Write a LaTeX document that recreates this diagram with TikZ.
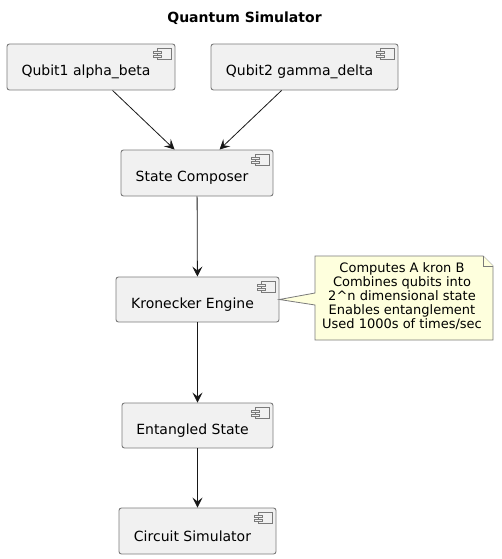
\documentclass[tikz,border=0pt]{standalone}
\usepackage{fontspec}
\setmainfont{DejaVu Sans}
\usetikzlibrary{arrows.meta,calc}
\definecolor{boxfill}{HTML}{F1F1F1}
\definecolor{boxline}{HTML}{7A7A7A}
\definecolor{arrowline}{HTML}{181818}
\definecolor{notefill}{HTML}{FEFFDD}
\tikzset{
  comp/.style={draw=boxline, line width=0.9pt, fill=boxfill, rounded corners=2.5pt, inner sep=0pt, minimum height=46pt},
  comptext/.style={font=\fontsize{14}{16}\selectfont, text=black, inner sep=0pt},
  notetext/.style={font=\fontsize{13}{14}\selectfont, align=center, text=black, inner sep=0pt},
  flow/.style={draw=arrowline, line width=0.8pt, -{Stealth[length=10pt,width=10pt,inset=4pt]}},
  icon/.style={draw=boxline, line width=0.7pt, fill=boxfill},
}
\newcommand{\compicon}[1]{%
  \draw[icon] ($(#1.north east)+(-18,5)$) rectangle ($(#1.north east)+(-4,16)$);
  \draw[icon] ($(#1.north east)+(-22,8)$) rectangle ($(#1.north east)+(-14,10)$);
  \draw[icon] ($(#1.north east)+(-22,12)$) rectangle ($(#1.north east)+(-14,14)$);
}
\begin{document}
\begin{tikzpicture}[x=1pt,y=-1pt]
\useasboundingbox (0,0) rectangle (501,559);
\node[font=\bfseries\fontsize{14}{16}\selectfont, inner sep=0pt] (title) at (244.5,18) {Quantum Simulator};

\node[comp, minimum width=168pt] (q1) at (91,67) {};
\node[comptext] (q1t) at (86,72) {Qubit1 alpha\_beta};
\compicon{q1}
\node[comp, minimum width=187pt] (q2) at (304.5,67) {};
\node[comptext] (q2t) at (299.5,72) {Qubit2 gamma\_delta};
\compicon{q2}
\node[comp, minimum width=152pt] (sc) at (197,173) {};
\node[comptext] (sct) at (192,178) {State Composer};
\compicon{sc}
\node[comp, minimum width=163pt, minimum height=45pt] (ke) at (197.5,299.5) {};
\node[comptext] (ket) at (192.5,304.5) {Kronecker Engine};
\compicon{ke}
\node[comp, minimum width=151pt, minimum height=45pt] (es) at (197.5,425.5) {};
\node[comptext] (est) at (192.5,430.5) {Entangled State};
\compicon{es}
\node[comp, minimum width=157pt] (cs) at (197.5,531) {};
\node[comptext] (cst) at (192.5,536) {Circuit Simulator};
\compicon{cs}

% note
\draw[draw=boxline, line width=0.8pt, fill=notefill] (315,256) -- (483,256) -- (493,266) -- (493,340) -- (315,340) -- (315,305) -- (ke.east |- 0,299.5) -- (315,293) -- cycle;
\draw[draw=boxline, line width=0.8pt, fill=notefill] (483,256) -- (483,266) -- (493,266);
\node[notetext] (note) at (402,296) {Computes A kron B\\Combines qubits into\\2\textasciicircum n dimensional state\\Enables entanglement\\Used 1000s of times/sec};

\draw[flow] ($(q1.south west)+(106,0)$) -- ($(sc.north west)+(54,0)$);
\draw[flow] ($(q2.south west)+(71,0)$) -- ($(sc.north west)+(99,0)$);
\draw[flow] (sc) -- (ke);
\draw[flow] (ke) -- (es);
\draw[flow] (es) -- (cs);
\end{tikzpicture}
\end{document}
